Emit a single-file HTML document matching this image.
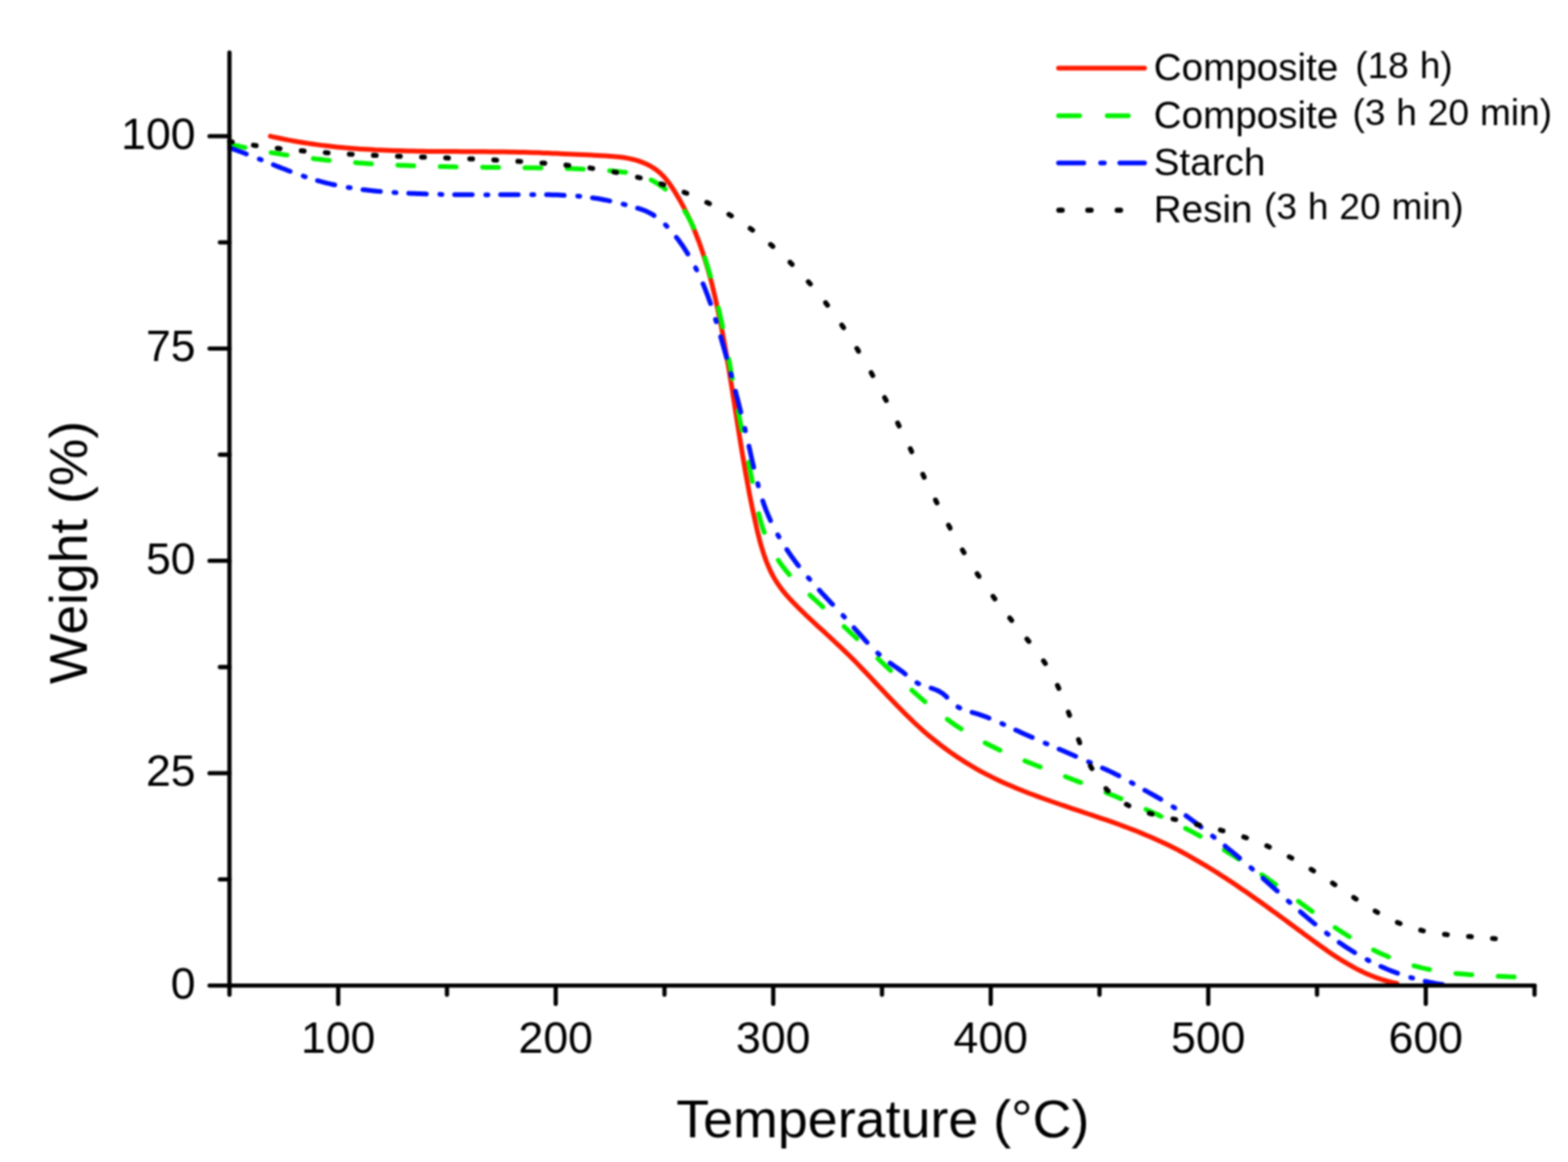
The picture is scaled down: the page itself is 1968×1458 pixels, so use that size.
<!DOCTYPE html>
<html><head><meta charset="utf-8"><title>TGA curves</title>
<style>
html,body{margin:0;padding:0;background:#fff;}
body{width:1968px;height:1458px;overflow:hidden;}
svg{display:block;}
#wrap{filter:blur(1px);width:1968px;height:1458px;}
text{font-family:'Liberation Sans',Arial,sans-serif;}
</style></head><body>
<div id="wrap">
<svg width="1968" height="1458" viewBox="0 0 1968 1458" font-family="'Liberation Sans', Arial, sans-serif" fill="#000">
<text x="245.5" y="1252.6" text-anchor="end" font-size="56">0</text>
<text x="245.5" y="986.2" text-anchor="end" font-size="56">25</text>
<text x="245.5" y="719.7" text-anchor="end" font-size="56">50</text>
<text x="245.5" y="453.3" text-anchor="end" font-size="56">75</text>
<text x="245.5" y="186.9" text-anchor="end" font-size="56">100</text>
<text x="424.5" y="1321" text-anchor="middle" font-size="56">100</text>
<text x="697.5" y="1321" text-anchor="middle" font-size="56">200</text>
<text x="970.5" y="1321" text-anchor="middle" font-size="56">300</text>
<text x="1243.5" y="1321" text-anchor="middle" font-size="56">400</text>
<text x="1516.5" y="1321" text-anchor="middle" font-size="56">500</text>
<text x="1789.5" y="1321" text-anchor="middle" font-size="56">600</text>
<text x="1108" y="1427" text-anchor="middle" font-size="67.5">Temperature (°C)</text>
<text transform="translate(109,693.2) rotate(-90)" x="0" y="0" text-anchor="middle" font-size="67">Weight (%)</text>
<path d="M339.3,170.9 L345.2,172.3 L351.1,173.5 L357.0,174.7 L362.9,175.9 L368.8,177.0 L374.8,178.0 L380.7,179.0 L386.6,179.9 L392.6,180.8 L398.6,181.6 L404.6,182.4 L410.5,183.1 L416.5,183.8 L422.5,184.4 L428.5,185.0 L434.5,185.5 L440.5,186.0 L446.5,186.5 L452.5,186.9 L458.5,187.3 L464.6,187.6 L470.6,188.0 L476.6,188.2 L482.6,188.5 L488.6,188.7 L494.6,189.0 L500.7,189.1 L506.7,189.3 L512.7,189.5 L518.7,189.6 L524.8,189.7 L530.8,189.8 L536.8,189.9 L542.8,189.9 L548.9,190.0 L554.9,190.0 L560.9,190.1 L566.9,190.1 L572.9,190.1 L579.0,190.2 L585.0,190.2 L591.0,190.2 L597.0,190.3 L603.1,190.3 L609.1,190.3 L615.1,190.4 L621.1,190.5 L627.2,190.5 L633.2,190.6 L639.2,190.7 L645.2,190.8 L651.3,190.9 L657.3,191.1 L663.3,191.3 L669.3,191.4 L675.3,191.6 L681.4,191.9 L687.4,192.1 L693.4,192.4 L699.4,192.6 L705.4,192.9 L711.5,193.2 L717.5,193.5 L723.5,193.8 L729.5,194.0 L735.5,194.3 L741.5,194.6 L747.6,194.9 L753.6,195.2 L759.6,195.6 L765.6,195.9 L771.6,196.4 L777.6,197.0 L783.6,197.8 L789.5,198.9 L795.4,200.2 L801.2,201.9 L806.8,203.9 L812.4,206.3 L817.7,209.2 L822.7,212.4 L827.5,216.1 L831.9,220.3 L835.9,224.8 L839.6,229.5 L843.0,234.5 L846.3,239.5 L849.4,244.7 L852.5,249.9 L855.4,255.1 L858.3,260.4 L861.0,265.8 L863.7,271.2 L866.2,276.6 L868.7,282.1 L871.1,287.7 L873.3,293.3 L875.5,298.9 L877.7,304.5 L879.7,310.2 L881.6,315.9 L883.5,321.6 L885.3,327.3 L887.1,333.1 L888.8,338.9 L890.4,344.7 L892.0,350.5 L893.5,356.3 L894.9,362.2 L896.3,368.0 L897.7,373.9 L899.0,379.8 L900.3,385.7 L901.6,391.6 L902.8,397.5 L904.0,403.4 L905.2,409.3 L906.3,415.2 L907.4,421.1 L908.5,427.0 L909.6,433.0 L910.6,438.9 L911.7,444.8 L912.7,450.8 L913.7,456.7 L914.7,462.6 L915.7,468.6 L916.6,474.5 L917.6,480.5 L918.6,486.4 L919.5,492.4 L920.4,498.3 L921.4,504.3 L922.3,510.2 L923.2,516.2 L924.2,522.1 L925.1,528.1 L926.0,534.0 L927.0,540.0 L927.9,545.9 L928.9,551.9 L929.8,557.8 L930.8,563.8 L931.8,569.7 L932.8,575.7 L933.8,581.6 L934.8,587.6 L935.8,593.5 L936.9,599.4 L938.0,605.3 L939.1,611.3 L940.2,617.2 L941.3,623.1 L942.5,629.0 L943.7,634.9 L944.9,640.8 L946.2,646.7 L947.5,652.6 L948.8,658.5 L950.1,664.3 L951.5,670.2 L953.0,676.0 L954.5,681.9 L956.2,687.7 L958.0,693.4 L959.9,699.1 L962.0,704.8 L964.3,710.3 L966.7,715.8 L969.4,721.2 L972.4,726.5 L975.6,731.6 L979.0,736.5 L982.7,741.3 L986.5,746.0 L990.5,750.5 L994.6,754.9 L998.8,759.2 L1003.0,763.5 L1007.4,767.7 L1011.7,771.9 L1016.1,776.0 L1020.5,780.1 L1024.9,784.2 L1029.3,788.3 L1033.8,792.3 L1038.2,796.4 L1042.7,800.5 L1047.1,804.6 L1051.5,808.7 L1055.9,812.8 L1060.2,817.0 L1064.5,821.2 L1068.8,825.4 L1073.1,829.7 L1077.3,834.0 L1081.4,838.4 L1085.6,842.7 L1089.8,847.1 L1093.9,851.5 L1098.0,855.9 L1102.1,860.2 L1106.3,864.6 L1110.4,869.0 L1114.5,873.4 L1118.7,877.8 L1122.9,882.1 L1127.0,886.4 L1131.3,890.7 L1135.5,895.0 L1139.8,899.2 L1144.1,903.4 L1148.5,907.6 L1152.9,911.6 L1157.4,915.7 L1161.9,919.7 L1166.5,923.6 L1171.2,927.4 L1175.9,931.2 L1180.6,934.9 L1185.4,938.5 L1190.3,942.1 L1195.2,945.6 L1200.2,949.0 L1205.2,952.3 L1210.2,955.6 L1215.4,958.7 L1220.5,961.8 L1225.7,964.9 L1231.0,967.8 L1236.3,970.6 L1241.7,973.4 L1247.1,976.1 L1252.5,978.7 L1257.9,981.3 L1263.4,983.7 L1269.0,986.1 L1274.5,988.5 L1280.1,990.8 L1285.7,993.0 L1291.3,995.2 L1296.9,997.3 L1302.6,999.4 L1308.2,1001.5 L1313.9,1003.5 L1319.6,1005.5 L1325.3,1007.5 L1331.0,1009.5 L1336.7,1011.4 L1342.4,1013.3 L1348.1,1015.3 L1353.8,1017.2 L1359.5,1019.1 L1365.2,1021.0 L1370.9,1022.9 L1376.6,1024.8 L1382.3,1026.8 L1388.0,1028.7 L1393.7,1030.7 L1399.4,1032.7 L1405.1,1034.8 L1410.7,1036.9 L1416.4,1039.0 L1422.0,1041.1 L1427.6,1043.3 L1433.2,1045.6 L1438.8,1047.9 L1444.3,1050.2 L1449.8,1052.7 L1455.3,1055.2 L1460.8,1057.7 L1466.2,1060.3 L1471.6,1063.0 L1476.9,1065.7 L1482.3,1068.5 L1487.6,1071.4 L1492.9,1074.3 L1498.1,1077.3 L1503.3,1080.3 L1508.5,1083.3 L1513.7,1086.4 L1518.8,1089.5 L1524.0,1092.7 L1529.1,1095.9 L1534.1,1099.2 L1539.2,1102.4 L1544.2,1105.8 L1549.2,1109.1 L1554.2,1112.5 L1559.2,1115.9 L1564.2,1119.3 L1569.1,1122.7 L1574.0,1126.2 L1579.0,1129.7 L1583.9,1133.2 L1588.7,1136.7 L1593.6,1140.2 L1598.5,1143.8 L1603.4,1147.3 L1608.2,1150.9 L1613.1,1154.4 L1617.9,1158.0 L1622.8,1161.6 L1627.6,1165.2 L1632.5,1168.7 L1637.3,1172.3 L1642.2,1175.9 L1647.0,1179.4 L1651.9,1183.0 L1656.8,1186.5 L1661.7,1190.0 L1666.6,1193.5 L1671.6,1196.9 L1676.6,1200.2 L1681.7,1203.5 L1686.8,1206.6 L1692.0,1209.7 L1697.2,1212.7 L1702.5,1215.6 L1707.9,1218.3 L1713.3,1220.9 L1718.9,1223.3 L1724.4,1225.6 L1730.1,1227.6 L1735.8,1229.5 L1741.6,1231.2 L1747.4,1232.7 L1753.3,1234.0" fill="none" stroke="#ff1a00" stroke-width="6.0" stroke-linecap="round" stroke-linejoin="round"/>
<path d="M287.9,180.6 L287.9,180.6 L291.2,181.4 L294.5,182.2 L297.8,182.9 L301.1,183.7 L304.4,184.4 L307.6,185.1 M340.3,191.4 L340.6,191.4 L343.9,192.0 L347.2,192.6 L350.6,193.1 L353.9,193.6 L357.3,194.2 L360.3,194.6 M393.2,199.0 L393.4,199.1 L396.7,199.5 L400.1,199.8 L403.5,200.2 L406.8,200.6 L410.2,200.9 L413.2,201.2 M446.2,204.1 L446.5,204.1 L449.4,204.4 L452.4,204.6 L455.3,204.8 L458.3,205.0 L461.3,205.2 L464.2,205.4 L466.2,205.5 M499.3,207.2 L499.7,207.3 L502.7,207.4 L505.7,207.5 L508.6,207.6 L511.6,207.7 L514.5,207.8 L517.5,208.0 L519.4,208.0 M552.5,209.0 L552.6,209.0 L556.0,209.0 L559.4,209.1 L562.8,209.2 L566.2,209.2 L569.6,209.3 L572.5,209.4 M605.7,209.8 L606.0,209.8 L609.0,209.9 L611.9,209.9 L614.9,209.9 L617.8,210.0 L620.8,210.0 L623.8,210.0 L625.7,210.1 M658.8,210.4 L658.9,210.4 L662.3,210.5 L665.7,210.5 L669.1,210.6 L672.5,210.6 L675.9,210.7 L678.9,210.7 M712.0,211.4 L712.3,211.4 L715.2,211.5 L718.2,211.6 L721.2,211.7 L724.1,211.8 L727.1,212.0 L730.0,212.1 L732.1,212.2 M765.1,214.2 L765.6,214.2 L768.5,214.5 L771.5,214.8 L774.4,215.0 L777.4,215.4 L780.3,215.7 L783.2,216.1 L785.1,216.3 M817.3,225.8 L817.3,225.9 L820.3,227.4 L823.2,229.1 L826.1,230.9 L828.9,232.7 L831.7,234.7 L834.4,236.8 L835.1,237.3 M859.5,265.0 L859.6,265.1 L861.6,268.3 L863.5,271.6 L865.3,275.0 L867.1,278.4 L868.8,281.8 L870.4,285.2 L870.6,285.8 M884.6,323.3 L884.8,323.7 L885.9,327.3 L887.1,331.0 L888.2,334.6 L889.3,338.3 L890.3,341.9 L891.4,345.6 L891.7,346.8 M901.7,386.2 L901.8,386.6 L902.6,390.3 L903.5,394.1 L904.3,397.8 L905.1,401.5 L905.9,405.2 L906.6,409.0 L906.9,410.4 M914.7,450.7 L914.7,451.0 L915.4,454.7 L916.1,458.5 L916.8,462.2 L917.4,466.0 L918.1,469.7 L918.8,473.5 L919.1,475.1 M926.4,515.5 L926.5,515.6 L927.2,519.3 L927.9,523.0 L928.6,526.8 L929.3,530.5 L930.1,534.3 L930.8,538.0 L931.2,539.9 M939.4,580.0 L939.5,580.3 L940.3,584.0 L941.0,587.8 L941.8,591.5 L942.5,595.3 L943.3,599.0 L944.0,602.7 L944.3,604.3 M952.3,644.5 L952.3,644.7 L953.2,648.4 L954.2,652.1 L955.2,655.7 L956.3,659.4 L957.4,663.0 L958.7,666.6 L959.2,668.0 M976.8,702.9 L976.8,702.9 L979.0,706.1 L981.2,709.2 L983.5,712.2 L985.8,715.2 L988.3,718.1 L990.7,721.0 M1016.6,746.7 L1016.9,747.0 L1019.4,749.3 L1021.9,751.5 L1024.4,753.8 L1026.9,756.1 L1029.4,758.4 L1031.9,760.7 L1032.8,761.5 M1059.4,786.2 L1059.5,786.3 L1062.0,788.6 L1064.5,790.9 L1066.9,793.3 L1069.4,795.6 L1071.9,797.9 L1074.3,800.2 L1075.4,801.3 M1101.8,826.3 L1102.0,826.4 L1104.5,828.8 L1106.9,831.1 L1109.4,833.4 L1111.8,835.8 L1114.3,838.1 L1116.7,840.4 L1117.8,841.4 M1144.4,866.0 L1144.7,866.3 L1147.3,868.6 L1149.8,870.8 L1152.4,873.0 L1154.9,875.3 L1157.5,877.5 L1160.1,879.7 L1160.9,880.4 M1188.9,902.5 L1188.9,902.6 L1191.7,904.5 L1194.4,906.5 L1197.2,908.5 L1200.0,910.4 L1202.8,912.3 L1205.6,914.1 L1206.4,914.7 M1236.4,932.1 L1236.7,932.3 L1239.7,933.8 L1242.7,935.3 L1245.8,936.8 L1248.8,938.3 L1251.9,939.8 L1255.0,941.2 L1255.1,941.3 M1286.4,954.7 L1286.5,954.8 L1289.6,956.0 L1292.7,957.3 L1295.9,958.5 L1299.0,959.8 L1302.2,961.0 L1305.4,962.2 L1305.6,962.3 M1337.2,974.4 L1337.4,974.5 L1340.6,975.7 L1343.7,976.9 L1346.9,978.2 L1350.0,979.4 L1353.2,980.6 L1356.4,981.8 L1356.4,981.8 M1388.0,994.3 L1388.2,994.4 L1391.4,995.7 L1394.5,997.0 L1397.7,998.3 L1400.8,999.6 L1403.9,1000.9 L1407.0,1002.1 M1438.3,1015.6 L1438.6,1015.7 L1441.6,1017.1 L1444.7,1018.5 L1447.8,1019.9 L1450.9,1021.3 L1454.0,1022.8 L1457.0,1024.2 L1457.2,1024.3 M1488.0,1039.4 L1488.2,1039.5 L1491.2,1041.1 L1494.2,1042.6 L1497.2,1044.2 L1500.2,1045.8 L1503.2,1047.4 L1506.1,1049.0 L1506.5,1049.2 M1536.5,1066.6 L1536.6,1066.7 L1539.5,1068.4 L1542.3,1070.2 L1545.2,1072.0 L1548.1,1073.8 L1550.9,1075.6 L1553.8,1077.4 L1554.5,1077.8 M1583.6,1097.4 L1583.7,1097.4 L1586.5,1099.4 L1589.3,1101.3 L1592.0,1103.3 L1594.8,1105.3 L1597.5,1107.2 L1600.3,1109.2 L1601.1,1109.8 M1629.6,1130.9 L1629.9,1131.1 L1632.6,1133.1 L1635.4,1135.2 L1638.1,1137.2 L1640.8,1139.2 L1643.5,1141.2 L1646.3,1143.2 L1646.9,1143.6 M1675.7,1163.9 L1676.1,1164.1 L1678.9,1166.0 L1681.7,1167.8 L1684.6,1169.7 L1687.5,1171.5 L1690.3,1173.3 L1693.2,1175.0 L1693.6,1175.3 M1723.9,1192.0 L1724.0,1192.0 L1727.0,1193.5 L1730.1,1195.0 L1733.2,1196.4 L1736.2,1197.8 L1739.3,1199.1 L1742.5,1200.5 L1742.8,1200.6 M1774.6,1211.8 L1774.8,1211.8 L1778.1,1212.7 L1781.4,1213.6 L1784.6,1214.4 L1787.9,1215.1 L1791.3,1215.9 L1794.3,1216.5 M1827.2,1221.4 L1827.2,1221.4 L1830.6,1221.7 L1834.0,1222.0 L1837.4,1222.3 L1840.7,1222.6 L1844.1,1222.9 L1847.2,1223.1 M1880.3,1224.9 L1880.5,1224.9 L1883.4,1225.0 L1886.4,1225.2 L1889.4,1225.3 L1892.3,1225.4 L1895.3,1225.6 L1898.2,1225.7 L1900.4,1225.8" fill="none" stroke="#00f200" stroke-width="6.0" stroke-linecap="round" stroke-linejoin="round"/>
<path d="M288.0,185.5 L288.0,185.5 L291.6,186.7 L295.1,187.9 L298.7,189.2 L302.2,190.5 L305.7,191.8 L309.2,193.2 L309.2,193.2 M325.5,199.6 L325.5,199.6 L325.9,199.7 L326.3,199.9 L326.7,200.1 L327.1,200.2 L327.5,200.4 L327.9,200.5 L327.9,200.5 M343.1,206.7 L343.3,206.8 L346.8,208.2 L350.3,209.6 L353.8,211.0 L357.3,212.3 L360.8,213.7 L364.2,215.0 M380.6,220.9 L380.8,221.0 L381.2,221.2 L381.6,221.3 L382.0,221.4 L382.4,221.6 L382.8,221.7 L383.0,221.8 M398.5,226.6 L398.7,226.7 L402.3,227.7 L405.9,228.6 L409.6,229.6 L413.2,230.4 L416.9,231.3 L420.2,232.0 M437.0,235.2 L437.4,235.3 L437.8,235.3 L438.2,235.4 L438.6,235.5 L439.0,235.5 L439.4,235.6 L439.5,235.6 M455.5,237.9 L455.5,237.9 L458.9,238.3 L462.2,238.7 L465.5,239.1 L468.8,239.4 L472.1,239.8 L475.5,240.1 L477.4,240.2 M494.5,241.5 L494.6,241.5 L495.0,241.6 L495.4,241.6 L495.8,241.6 L496.3,241.6 L496.7,241.7 L497.0,241.7 M513.0,242.5 L513.4,242.6 L516.7,242.7 L520.0,242.8 L523.4,243.0 L526.7,243.1 L530.0,243.2 L533.4,243.3 L535.1,243.4 M552.1,243.8 L552.1,243.8 L552.6,243.8 L553.0,243.9 L553.4,243.9 L553.8,243.9 L554.2,243.9 L554.6,243.9 M570.6,244.2 L570.9,244.2 L574.3,244.2 L577.6,244.2 L580.9,244.3 L584.3,244.3 L587.6,244.3 L591.0,244.3 L592.7,244.3 M609.8,244.4 L610.2,244.4 L610.6,244.4 L611.0,244.4 L611.4,244.4 L611.8,244.4 L612.2,244.4 L612.3,244.4 M628.3,244.3 L628.5,244.3 L631.9,244.3 L635.2,244.3 L638.5,244.3 L641.9,244.3 L645.2,244.3 L648.6,244.2 L650.4,244.2 M667.4,244.2 L667.8,244.2 L668.2,244.2 L668.6,244.2 L669.0,244.2 L669.4,244.2 L669.8,244.2 L669.9,244.2 M686.0,244.3 L686.1,244.3 L689.5,244.3 L692.8,244.4 L696.1,244.5 L699.5,244.6 L702.8,244.7 L706.1,244.9 L708.0,245.0 M725.1,246.1 L725.3,246.1 L725.7,246.2 L726.1,246.2 L726.5,246.2 L727.0,246.3 L727.4,246.3 L727.6,246.3 M743.5,248.2 L743.5,248.2 L747.3,248.7 L751.0,249.3 L754.7,250.0 L758.4,250.7 L762.0,251.4 L765.4,252.1 M782.1,256.1 L782.3,256.2 L782.7,256.3 L783.2,256.4 L783.6,256.5 L784.0,256.6 L784.4,256.7 L784.6,256.8 M800.2,261.2 L800.4,261.2 L804.0,262.4 L807.6,263.6 L811.0,265.0 L814.4,266.6 L817.7,268.4 L820.9,270.4 L820.9,270.4 M835.2,282.1 L835.4,282.3 L835.7,282.6 L836.0,282.9 L836.3,283.2 L836.6,283.5 L836.9,283.8 L837.1,284.1 M848.9,297.7 L849.1,298.0 L851.7,301.3 L854.1,304.7 L856.5,308.1 L858.9,311.6 L861.1,315.1 L863.3,318.6 M873.0,336.0 L873.1,336.1 L873.3,336.5 L873.5,336.9 L873.7,337.2 L873.8,337.6 L874.0,338.0 L874.2,338.4 L874.4,338.7 M882.3,356.1 L882.4,356.2 L884.0,360.1 L885.5,363.9 L887.0,367.8 L888.5,371.7 L889.9,375.7 L891.3,379.6 L891.8,381.0 M898.1,400.8 L898.2,401.0 L898.3,401.4 L898.4,401.8 L898.6,402.2 L898.7,402.6 L898.8,403.0 L898.9,403.4 L899.0,403.7 M904.5,422.6 L904.5,422.7 L905.7,426.7 L906.8,430.7 L908.0,434.7 L909.1,438.7 L910.2,442.8 L911.3,446.8 L911.8,448.6 M917.3,468.8 L917.3,468.9 L917.4,469.3 L917.6,469.7 L917.7,470.1 L917.8,470.5 L917.9,470.9 L918.0,471.3 L918.1,471.8 L918.1,471.8 M923.1,490.8 L923.2,491.1 L924.2,495.2 L925.3,499.2 L926.3,503.3 L927.3,507.3 L928.3,511.3 L929.4,515.4 L929.8,517.1 M934.8,537.5 L934.8,537.7 L934.9,538.1 L935.0,538.5 L935.1,538.9 L935.2,539.3 L935.3,539.7 L935.4,540.1 L935.5,540.5 M940.0,559.7 L940.0,560.0 L941.0,564.1 L941.9,568.2 L942.8,572.3 L943.7,576.3 L944.6,580.4 L945.6,584.5 L946.0,586.3 M951.0,606.7 L951.0,606.8 L951.1,607.2 L951.2,607.6 L951.3,608.0 L951.4,608.4 L951.5,608.8 L951.6,609.2 L951.7,609.6 L951.7,609.6 M957.3,628.4 L957.5,628.8 L958.8,632.7 L960.2,636.7 L961.7,640.6 L963.3,644.4 L964.9,648.3 L966.6,652.1 L967.1,653.2 M976.2,671.1 L976.4,671.4 L976.6,671.8 L976.8,672.2 L977.0,672.5 L977.2,672.9 L977.4,673.3 L977.6,673.6 L977.7,673.7 M987.5,689.5 L987.5,689.6 L989.9,693.0 L992.3,696.5 L994.7,699.9 L997.2,703.2 L999.7,706.6 L1002.2,709.9 L1002.3,710.0 M1014.5,724.9 L1014.7,725.0 L1014.9,725.3 L1015.2,725.7 L1015.5,726.0 L1015.8,726.3 L1016.0,726.6 L1016.3,726.9 L1016.4,727.0 M1028.3,740.4 L1028.5,740.6 L1031.0,743.4 L1033.6,746.2 L1036.1,748.9 L1038.7,751.7 L1041.3,754.4 L1043.8,757.2 L1045.0,758.4 M1058.0,772.3 L1058.1,772.4 L1058.4,772.7 L1058.7,773.0 L1058.9,773.3 L1059.2,773.6 L1059.5,773.9 L1059.8,774.2 L1059.9,774.3 M1071.9,787.6 L1072.1,787.9 L1074.6,790.7 L1077.1,793.5 L1079.6,796.3 L1082.1,799.1 L1084.6,801.9 L1087.1,804.7 L1088.3,806.0 M1101.6,819.4 L1101.7,819.6 L1102.0,819.8 L1102.4,820.1 L1102.7,820.4 L1103.0,820.7 L1103.3,821.0 L1103.6,821.2 L1103.6,821.2 M1117.1,832.0 L1117.3,832.1 L1120.4,834.2 L1123.5,836.4 L1126.6,838.5 L1129.7,840.7 L1132.7,842.9 L1135.6,845.3 L1136.2,845.8 M1150.8,856.7 L1150.9,856.8 L1151.3,857.0 L1151.7,857.2 L1152.0,857.4 L1152.4,857.6 L1152.8,857.8 L1153.1,857.9 M1168.6,863.4 L1168.9,863.5 L1172.4,864.7 L1175.9,866.0 L1179.3,867.7 L1182.5,869.7 L1185.4,872.0 L1188.2,874.5 L1188.4,874.8 M1202.3,887.0 L1202.6,887.2 L1203.0,887.4 L1203.3,887.6 L1203.7,887.8 L1204.0,888.0 L1204.4,888.2 L1204.6,888.3 M1220.0,893.8 L1220.1,893.8 L1223.7,894.8 L1227.3,895.9 L1230.9,897.1 L1234.4,898.3 L1237.9,899.6 L1241.3,901.0 M1257.4,907.9 L1257.5,908.0 L1257.9,908.2 L1258.3,908.3 L1258.7,908.5 L1259.0,908.7 L1259.4,908.9 L1259.8,909.0 M1274.8,916.0 L1274.9,916.0 L1278.4,917.6 L1281.8,919.2 L1285.2,920.7 L1288.6,922.2 L1292.1,923.8 L1295.5,925.3 L1295.6,925.3 M1311.7,932.4 L1311.9,932.5 L1312.3,932.7 L1312.7,932.8 L1313.1,933.0 L1313.5,933.2 L1313.8,933.3 L1314.1,933.4 M1329.2,940.0 L1329.6,940.1 L1333.0,941.6 L1336.5,943.1 L1339.9,944.6 L1343.4,946.1 L1346.8,947.5 L1350.1,948.9 M1366.2,955.9 L1366.4,956.0 L1366.7,956.1 L1367.1,956.3 L1367.5,956.5 L1367.9,956.6 L1368.3,956.8 L1368.6,956.9 M1383.7,963.6 L1383.9,963.7 L1387.4,965.2 L1390.8,966.8 L1394.2,968.4 L1397.6,970.0 L1400.9,971.7 L1404.3,973.3 L1404.3,973.4 M1419.9,981.9 L1420.0,982.0 L1420.4,982.2 L1420.8,982.4 L1421.1,982.6 L1421.5,982.8 L1421.8,983.0 L1422.2,983.2 L1422.2,983.2 M1436.8,991.6 L1437.1,991.7 L1440.3,993.5 L1443.6,995.3 L1446.9,997.2 L1450.2,999.0 L1453.5,1000.8 L1456.7,1002.7 L1456.9,1002.9 M1472.2,1012.3 L1472.4,1012.4 L1472.7,1012.6 L1473.0,1012.8 L1473.4,1013.0 L1473.7,1013.3 L1474.1,1013.5 L1474.4,1013.7 L1474.5,1013.7 M1488.5,1023.5 L1488.5,1023.5 L1491.5,1025.7 L1494.5,1027.9 L1497.6,1030.2 L1500.6,1032.5 L1503.5,1034.7 L1506.5,1037.0 L1507.4,1037.7 M1521.8,1049.0 L1522.0,1049.1 L1522.3,1049.4 L1522.6,1049.6 L1523.0,1049.9 L1523.3,1050.1 L1523.6,1050.4 L1523.9,1050.7 L1524.0,1050.7 M1537.5,1061.5 L1537.6,1061.6 L1540.5,1064.0 L1543.4,1066.4 L1546.4,1068.7 L1549.3,1071.1 L1552.1,1073.5 L1555.0,1075.9 L1555.9,1076.7 M1570.0,1088.7 L1570.3,1088.9 L1570.6,1089.2 L1570.9,1089.5 L1571.2,1089.7 L1571.5,1090.0 L1571.9,1090.3 L1572.0,1090.5 M1585.2,1102.0 L1585.3,1102.2 L1588.1,1104.7 L1590.9,1107.2 L1593.7,1109.7 L1596.5,1112.2 L1599.3,1114.7 L1602.1,1117.2 L1603.1,1118.1 M1616.9,1130.6 L1616.9,1130.6 L1617.3,1130.9 L1617.6,1131.2 L1617.9,1131.5 L1618.2,1131.8 L1618.5,1132.0 L1618.8,1132.3 L1618.9,1132.4 M1632.1,1144.0 L1632.3,1144.2 L1635.1,1146.6 L1638.0,1149.1 L1640.9,1151.5 L1643.7,1153.9 L1646.6,1156.3 L1649.5,1158.7 L1650.4,1159.4 M1664.8,1170.8 L1664.9,1170.9 L1665.2,1171.1 L1665.6,1171.4 L1665.9,1171.6 L1666.2,1171.9 L1666.6,1172.1 L1666.9,1172.4 L1666.9,1172.4 M1680.8,1182.5 L1681.1,1182.7 L1684.2,1184.8 L1687.3,1186.9 L1690.4,1189.0 L1693.6,1191.0 L1696.7,1193.0 L1699.9,1195.0 L1700.3,1195.3 M1715.8,1204.1 L1715.9,1204.2 L1716.2,1204.4 L1716.6,1204.5 L1717.0,1204.7 L1717.3,1204.9 L1717.7,1205.1 L1718.1,1205.3 L1718.1,1205.4 M1733.1,1212.6 L1733.5,1212.8 L1736.9,1214.3 L1740.3,1215.8 L1743.8,1217.2 L1747.3,1218.6 L1750.8,1219.9 L1754.1,1221.1 M1770.6,1226.5 L1770.6,1226.5 L1771.0,1226.6 L1771.4,1226.8 L1771.8,1226.9 L1772.2,1227.0 L1772.6,1227.1 L1773.0,1227.2 M1788.7,1231.2 L1788.8,1231.2 L1792.1,1231.9 L1795.3,1232.6 L1798.6,1233.3 L1801.9,1233.9 L1805.2,1234.4 L1808.5,1234.9 L1810.6,1235.3" fill="none" stroke="#0010ff" stroke-width="6.0" stroke-linecap="round" stroke-linejoin="round"/>
<path d="M288.0,177.4 L288.0,177.4 L288.4,177.5 L288.8,177.6 L289.2,177.6 L289.6,177.7 L290.0,177.8 L290.4,177.8 L290.8,177.9 L291.2,178.0 L291.5,178.0 M318.0,182.2 L318.0,182.2 L318.4,182.3 L318.8,182.3 L319.3,182.4 L319.7,182.5 L320.1,182.5 L320.5,182.6 L320.9,182.6 L321.3,182.7 L321.5,182.7 M348.0,186.1 L348.2,186.1 L348.6,186.2 L349.1,186.2 L349.5,186.2 L349.9,186.3 L350.3,186.3 L350.7,186.4 L351.1,186.4 L351.5,186.5 L351.5,186.5 M378.1,189.2 L378.5,189.2 L378.9,189.2 L379.3,189.3 L379.8,189.3 L380.2,189.3 L380.6,189.4 L381.0,189.4 L381.4,189.4 L381.7,189.5 M408.3,191.5 L408.5,191.6 L408.9,191.6 L409.3,191.6 L409.7,191.6 L410.1,191.7 L410.5,191.7 L410.9,191.7 L411.3,191.8 L411.8,191.8 L411.8,191.8 M438.5,193.4 L438.9,193.4 L439.3,193.5 L439.7,193.5 L440.1,193.5 L440.5,193.5 L440.9,193.5 L441.3,193.6 L441.7,193.6 L442.0,193.6 M468.7,194.9 L468.9,194.9 L469.3,194.9 L469.7,194.9 L470.1,194.9 L470.5,194.9 L470.9,195.0 L471.3,195.0 L471.7,195.0 L472.2,195.0 L472.2,195.0 M498.9,196.1 L499.3,196.1 L499.7,196.1 L500.1,196.1 L500.5,196.1 L500.9,196.1 L501.3,196.1 L501.8,196.2 L502.2,196.2 L502.4,196.2 M529.1,197.1 L529.3,197.1 L529.7,197.1 L530.1,197.1 L530.5,197.2 L531.0,197.2 L531.4,197.2 L531.8,197.2 L532.2,197.2 L532.6,197.2 L532.7,197.2 M559.4,198.1 L559.7,198.2 L560.1,198.2 L560.6,198.2 L561.0,198.2 L561.4,198.2 L561.8,198.2 L562.2,198.2 L562.6,198.3 L562.9,198.3 M589.6,199.3 L589.8,199.3 L590.2,199.3 L590.6,199.3 L591.0,199.4 L591.4,199.4 L591.8,199.4 L592.2,199.4 L592.6,199.4 L593.0,199.4 L593.1,199.4 M619.8,200.7 L620.2,200.7 L620.6,200.7 L621.0,200.7 L621.4,200.8 L621.8,200.8 L622.2,200.8 L622.6,200.8 L623.0,200.8 L623.3,200.9 M650.0,202.4 L650.2,202.4 L650.6,202.4 L651.0,202.4 L651.4,202.5 L651.8,202.5 L652.2,202.5 L652.6,202.5 L653.0,202.6 L653.4,202.6 L653.5,202.6 M680.2,204.5 L680.5,204.5 L680.9,204.5 L681.4,204.6 L681.8,204.6 L682.2,204.6 L682.6,204.7 L683.0,204.7 L683.4,204.7 L683.7,204.8 M710.3,207.2 L710.5,207.2 L710.9,207.2 L711.3,207.3 L711.7,207.3 L712.1,207.4 L712.5,207.4 L712.9,207.5 L713.3,207.5 L713.7,207.5 L713.8,207.5 M740.4,210.8 L740.7,210.9 L741.1,210.9 L741.5,211.0 L741.9,211.0 L742.3,211.1 L742.7,211.1 L743.1,211.2 L743.5,211.3 L743.9,211.3 M770.4,215.7 L770.7,215.8 L771.1,215.9 L771.5,216.0 L771.9,216.0 L772.3,216.1 L772.7,216.2 L773.1,216.3 L773.5,216.3 L773.8,216.4 M800.1,222.3 L800.4,222.3 L800.8,222.5 L801.2,222.6 L801.6,222.7 L802.0,222.8 L802.4,222.9 L802.8,223.0 L803.2,223.1 L803.6,223.2 M829.6,230.7 L829.7,230.7 L830.1,230.9 L830.5,231.0 L830.9,231.1 L831.3,231.3 L831.7,231.4 L832.1,231.5 L832.5,231.6 L832.8,231.8 L833.0,231.8 M858.6,241.2 L858.7,241.2 L859.1,241.4 L859.5,241.5 L859.9,241.7 L860.3,241.8 L860.6,242.0 L861.0,242.2 L861.4,242.3 L861.8,242.5 L862.0,242.5 M887.1,253.9 L887.3,254.0 L887.7,254.1 L888.0,254.3 L888.4,254.5 L888.8,254.7 L889.1,254.9 L889.5,255.1 L889.9,255.2 L890.2,255.4 L890.4,255.5 M914.8,268.9 L915.1,269.1 L915.5,269.3 L915.8,269.5 L916.2,269.8 L916.5,270.0 L916.9,270.2 L917.2,270.4 L917.6,270.6 L917.9,270.8 L918.0,270.9 M941.5,286.6 L941.5,286.6 L941.9,286.8 L942.2,287.0 L942.5,287.3 L942.9,287.5 L943.2,287.8 L943.5,288.0 L943.9,288.3 L944.2,288.5 L944.5,288.7 L944.6,288.8 M967.1,306.7 L967.4,306.9 L967.7,307.2 L968.0,307.4 L968.3,307.7 L968.7,308.0 L969.0,308.2 L969.3,308.5 L969.6,308.8 L969.9,309.0 L970.0,309.2 M991.5,329.0 L991.6,329.2 L991.9,329.5 L992.2,329.8 L992.5,330.0 L992.8,330.3 L993.1,330.6 L993.4,330.9 L993.7,331.2 L994.0,331.5 L994.2,331.8 M1014.5,353.5 L1014.8,353.7 L1015.0,354.0 L1015.3,354.4 L1015.6,354.7 L1015.8,355.0 L1016.1,355.3 L1016.4,355.6 L1016.7,355.9 L1016.9,356.2 L1017.1,356.4 M1036.2,379.8 L1036.4,380.1 L1036.7,380.4 L1036.9,380.8 L1037.2,381.1 L1037.4,381.4 L1037.7,381.8 L1037.9,382.1 L1038.2,382.4 L1038.4,382.7 L1038.6,383.0 M1056.5,407.8 L1056.7,408.1 L1056.9,408.5 L1057.2,408.8 L1057.4,409.1 L1057.6,409.5 L1057.9,409.8 L1058.1,410.2 L1058.3,410.5 L1058.5,410.8 L1058.8,411.2 M1075.5,437.2 L1075.7,437.5 L1075.9,437.8 L1076.1,438.2 L1076.3,438.5 L1076.5,438.9 L1076.8,439.2 L1077.0,439.6 L1077.2,439.9 L1077.4,440.3 L1077.6,440.6 L1077.6,440.7 M1093.4,467.6 L1093.4,467.6 L1093.6,468.0 L1093.8,468.4 L1094.0,468.7 L1094.2,469.1 L1094.4,469.4 L1094.6,469.8 L1094.8,470.2 L1095.0,470.5 L1095.2,470.9 L1095.4,471.2 L1095.4,471.2 M1110.3,498.9 L1110.5,499.1 L1110.6,499.5 L1110.8,499.8 L1111.0,500.2 L1111.2,500.6 L1111.4,500.9 L1111.6,501.3 L1111.8,501.7 L1112.0,502.0 L1112.2,502.4 L1112.3,502.6 M1126.6,530.7 L1126.7,531.0 L1126.9,531.4 L1127.1,531.7 L1127.3,532.1 L1127.5,532.5 L1127.7,532.8 L1127.8,533.2 L1128.0,533.6 L1128.2,533.9 L1128.4,534.3 L1128.5,534.5 M1142.5,562.9 L1142.6,563.1 L1142.8,563.5 L1142.9,563.8 L1143.1,564.2 L1143.3,564.6 L1143.5,564.9 L1143.7,565.3 L1143.8,565.7 L1144.0,566.1 L1144.2,566.4 L1144.3,566.7 M1158.2,595.2 L1158.2,595.3 L1158.4,595.6 L1158.6,596.0 L1158.8,596.4 L1159.0,596.8 L1159.2,597.1 L1159.3,597.5 L1159.5,597.9 L1159.7,598.2 L1159.9,598.6 L1160.0,598.9 M1174.1,627.3 L1174.1,627.4 L1174.3,627.7 L1174.5,628.1 L1174.7,628.5 L1174.9,628.8 L1175.0,629.2 L1175.2,629.6 L1175.4,629.9 L1175.6,630.3 L1175.8,630.7 L1176.0,631.0 M1190.5,659.0 L1190.6,659.1 L1190.8,659.5 L1191.0,659.9 L1191.2,660.2 L1191.4,660.6 L1191.6,661.0 L1191.8,661.3 L1192.0,661.7 L1192.2,662.0 L1192.4,662.4 L1192.5,662.7 M1207.9,690.0 L1207.9,690.0 L1208.1,690.4 L1208.3,690.7 L1208.5,691.1 L1208.7,691.4 L1208.9,691.8 L1209.2,692.1 L1209.4,692.5 L1209.6,692.8 L1209.8,693.2 L1210.0,693.5 M1226.4,719.8 L1226.6,720.1 L1226.8,720.4 L1227.0,720.8 L1227.3,721.1 L1227.5,721.4 L1227.7,721.8 L1227.9,722.1 L1228.2,722.5 L1228.4,722.8 L1228.6,723.2 L1228.7,723.2 M1246.3,748.2 L1246.4,748.4 L1246.7,748.7 L1246.9,749.0 L1247.1,749.4 L1247.4,749.7 L1247.6,750.0 L1247.9,750.3 L1248.1,750.7 L1248.4,751.0 L1248.6,751.3 L1248.7,751.5 M1267.3,775.4 L1267.6,775.7 L1267.8,776.0 L1268.1,776.3 L1268.3,776.7 L1268.6,777.0 L1268.9,777.3 L1269.1,777.6 L1269.4,777.9 L1269.6,778.3 L1269.8,778.5 M1288.9,801.8 L1289.2,802.2 L1289.4,802.5 L1289.7,802.8 L1289.9,803.1 L1290.2,803.4 L1290.5,803.7 L1290.7,804.1 L1291.0,804.4 L1291.2,804.7 L1291.4,804.9 M1309.7,829.2 L1309.8,829.3 L1310.0,829.7 L1310.3,830.0 L1310.5,830.4 L1310.7,830.7 L1311.0,831.0 L1311.2,831.4 L1311.4,831.7 L1311.6,832.1 L1311.9,832.4 L1312.0,832.6 M1327.2,860.0 L1327.3,860.1 L1327.4,860.4 L1327.6,860.8 L1327.8,861.2 L1328.0,861.6 L1328.1,861.9 L1328.3,862.3 L1328.5,862.7 L1328.6,863.1 L1328.8,863.4 L1329.0,863.8 M1340.9,893.6 L1341.1,894.0 L1341.2,894.4 L1341.3,894.8 L1341.5,895.1 L1341.6,895.5 L1341.8,895.9 L1341.9,896.3 L1342.0,896.7 L1342.2,897.1 L1342.3,897.5 L1342.4,897.6 M1353.6,927.9 L1353.6,927.9 L1353.8,928.3 L1353.9,928.7 L1354.1,929.1 L1354.2,929.5 L1354.4,929.9 L1354.5,930.2 L1354.7,930.6 L1354.8,931.0 L1355.0,931.4 L1355.2,931.8 L1355.2,931.9 M1368.5,960.8 L1368.6,960.9 L1368.7,961.3 L1368.9,961.6 L1369.1,962.0 L1369.3,962.4 L1369.5,962.7 L1369.7,963.1 L1369.9,963.4 L1370.1,963.8 L1370.3,964.2 L1370.5,964.4 M1388.1,989.4 L1388.3,989.7 L1388.6,990.0 L1388.8,990.3 L1389.1,990.6 L1389.4,990.9 L1389.7,991.2 L1390.0,991.5 L1390.3,991.8 L1390.5,992.1 L1390.8,992.3 M1413.7,1009.2 L1414.0,1009.4 L1414.3,1009.5 L1414.7,1009.7 L1415.0,1009.9 L1415.4,1010.1 L1415.8,1010.3 L1416.1,1010.5 L1416.5,1010.7 L1416.9,1010.9 L1416.9,1010.9 M1442.5,1020.4 L1442.7,1020.5 L1443.1,1020.6 L1443.5,1020.7 L1443.9,1020.8 L1444.3,1020.9 L1444.6,1021.1 L1445.0,1021.2 L1445.4,1021.3 L1445.8,1021.4 L1445.9,1021.4 M1472.2,1027.6 L1472.3,1027.6 L1472.7,1027.7 L1473.1,1027.8 L1473.5,1027.9 L1473.9,1027.9 L1474.3,1028.0 L1474.7,1028.1 L1475.1,1028.2 L1475.5,1028.3 L1475.6,1028.3 M1501.9,1034.4 L1502.0,1034.4 L1502.4,1034.5 L1502.8,1034.6 L1503.2,1034.7 L1503.6,1034.8 L1504.0,1034.9 L1504.4,1034.9 L1504.8,1035.0 L1505.2,1035.1 L1505.4,1035.2 M1531.6,1041.5 L1531.9,1041.6 L1532.3,1041.7 L1532.7,1041.8 L1533.1,1042.0 L1533.5,1042.1 L1533.9,1042.2 L1534.3,1042.3 L1534.7,1042.4 L1535.0,1042.4 M1561.0,1050.1 L1561.2,1050.2 L1561.6,1050.3 L1562.0,1050.4 L1562.3,1050.6 L1562.7,1050.7 L1563.1,1050.8 L1563.5,1051.0 L1563.9,1051.1 L1564.3,1051.2 L1564.4,1051.3 M1589.9,1061.3 L1589.9,1061.3 L1590.3,1061.5 L1590.7,1061.6 L1591.1,1061.8 L1591.4,1062.0 L1591.8,1062.1 L1592.2,1062.3 L1592.6,1062.5 L1592.9,1062.6 L1593.2,1062.8 M1618.1,1075.0 L1618.1,1075.0 L1618.4,1075.2 L1618.8,1075.4 L1619.2,1075.6 L1619.5,1075.7 L1619.9,1075.9 L1620.2,1076.1 L1620.6,1076.3 L1621.0,1076.5 L1621.3,1076.7 M1645.5,1090.7 L1645.5,1090.7 L1645.9,1090.9 L1646.3,1091.1 L1646.6,1091.4 L1647.0,1091.6 L1647.3,1091.8 L1647.7,1092.0 L1648.0,1092.2 L1648.4,1092.4 L1648.7,1092.7 M1672.4,1108.0 L1672.5,1108.1 L1672.9,1108.3 L1673.2,1108.6 L1673.5,1108.8 L1673.9,1109.0 L1674.2,1109.3 L1674.6,1109.5 L1674.9,1109.7 L1675.2,1110.0 L1675.5,1110.1 M1699.0,1126.0 L1699.1,1126.1 L1699.4,1126.4 L1699.8,1126.6 L1700.1,1126.8 L1700.5,1127.0 L1700.8,1127.3 L1701.1,1127.5 L1701.5,1127.7 L1701.8,1127.9 L1702.1,1128.1 M1725.9,1143.1 L1726.2,1143.2 L1726.6,1143.5 L1726.9,1143.7 L1727.3,1143.9 L1727.6,1144.1 L1728.0,1144.3 L1728.4,1144.5 L1728.7,1144.7 L1729.1,1144.9 L1729.1,1144.9 M1753.9,1157.4 L1754.1,1157.4 L1754.4,1157.6 L1754.8,1157.8 L1755.2,1157.9 L1755.6,1158.1 L1756.0,1158.2 L1756.3,1158.4 L1756.7,1158.6 L1757.1,1158.7 L1757.2,1158.8 M1783.1,1167.1 L1783.3,1167.2 L1783.7,1167.3 L1784.1,1167.4 L1784.5,1167.5 L1784.9,1167.6 L1785.3,1167.7 L1785.7,1167.7 L1786.1,1167.8 L1786.5,1167.9 L1786.5,1167.9 M1813.0,1172.3 L1813.3,1172.3 L1813.7,1172.4 L1814.1,1172.4 L1814.5,1172.5 L1814.9,1172.5 L1815.3,1172.5 L1815.8,1172.6 L1816.2,1172.6 L1816.5,1172.7 M1843.2,1175.0 L1843.2,1175.0 L1843.6,1175.0 L1844.0,1175.1 L1844.4,1175.1 L1844.9,1175.1 L1845.3,1175.2 L1845.7,1175.2 L1846.1,1175.2 L1846.5,1175.2 L1846.7,1175.3 M1873.3,1177.5 L1873.6,1177.5 L1874.0,1177.5 L1874.4,1177.6 L1874.8,1177.6 L1875.2,1177.7 L1875.6,1177.7 L1876.0,1177.7 L1876.4,1177.8 L1876.8,1177.8" fill="none" stroke="#000" stroke-width="6.2" stroke-linecap="round" stroke-linejoin="round"/>
<path d="M288.0,66.0 L288.0,1236.6 L1926.0,1236.6" fill="none" stroke="#000" stroke-width="5.3" stroke-linecap="round" stroke-linejoin="miter"/>
<path d="M288.0,1236.6 H263.0 M288.0,970.2 H263.0 M288.0,703.7 H263.0 M288.0,437.3 H263.0 M288.0,170.9 H263.0 M288.0,1103.4 H276.0 M288.0,837.0 H276.0 M288.0,570.5 H276.0 M288.0,304.1 H276.0 M424.5,1236.6 V1259.6 M697.5,1236.6 V1259.6 M970.5,1236.6 V1259.6 M1243.5,1236.6 V1259.6 M1516.5,1236.6 V1259.6 M1789.5,1236.6 V1259.6 M288.0,1236.6 V1248.1 M561.0,1236.6 V1248.1 M834.0,1236.6 V1248.1 M1107.0,1236.6 V1248.1 M1380.0,1236.6 V1248.1 M1653.0,1236.6 V1248.1 M1926.0,1236.6 V1248.1" fill="none" stroke="#000" stroke-width="5.3" stroke-linecap="round"/>
<path d="M1328.6,85.6 H1436.5" stroke="#ff1a00" stroke-width="6.0" stroke-linecap="round"/>
<path d="M1328.6,145.3 H1355 M1389.7,145.3 H1416.1" stroke="#00f200" stroke-width="6.0" stroke-linecap="round"/>
<path d="M1328.6,204.5 H1360.3 M1381.4,204.5 H1386 M1405.5,204.5 H1436.5" stroke="#0010ff" stroke-width="6.0" stroke-linecap="round"/>
<path d="M1329,263.8 H1333.2 M1365.3,263.8 H1369.5 M1402.2,263.8 H1406.4" stroke="#000" stroke-width="6.4" stroke-linecap="round"/>
<text x="1448" y="101.1" font-size="48.5">Composite</text>
<text x="1701.0" y="97.8" font-size="46.5" word-spacing="0.80">(18 h)</text>
<text x="1448" y="160.5" font-size="48.5">Composite</text>
<text x="1697.4" y="157.2" font-size="46.5" word-spacing="0.80">(3 h 20 min)</text>
<text x="1448" y="220.0" font-size="48.5">Starch</text>
<text x="1448" y="278.6" font-size="48.5">Resin</text>
<text x="1586.4" y="275.3" font-size="46.5" word-spacing="0.80">(3 h 20 min)</text>
</svg>
</div>
</body></html>
